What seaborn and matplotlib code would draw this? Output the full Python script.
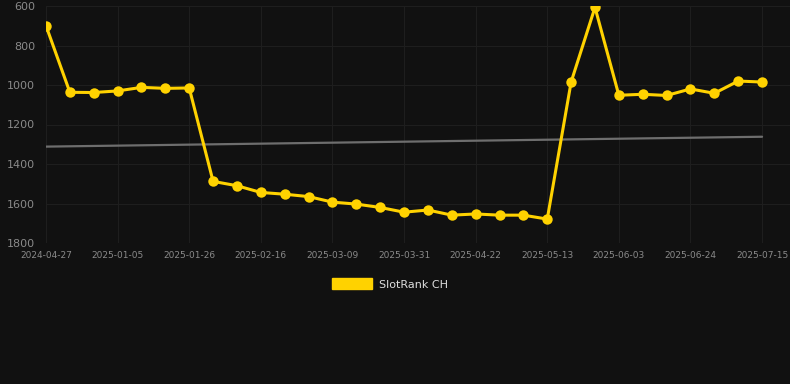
import matplotlib
matplotlib.use('Agg')
import matplotlib.pyplot as plt
from matplotlib.patches import Patch
import numpy as np
import pandas as pd
import seaborn as sns

# rank values (lower number = better rank), one per snapshot
rank_values = [700, 1037, 1038, 1030, 1012, 1017, 1015, 1488, 1510, 1544,
               1553, 1565, 1593, 1603, 1620, 1644, 1633, 1659, 1653, 1659,
               1659, 1679, 985, 607, 1052, 1047, 1053, 1020, 1042, 980, 985]
tick_labels = ['2024-04-27', '2025-01-05', '2025-01-26', '2025-02-16', '2025-03-09',
               '2025-03-31', '2025-04-22', '2025-05-13', '2025-06-03', '2025-06-24',
               '2025-07-15']
trend_values = [1312, 1262]
series_name = 'SlotRank CH'

BG = '#111111'
YELLOW = '#FFD200'

df = pd.DataFrame({'idx': np.arange(len(rank_values)), 'rank': rank_values})

sns.set_style('dark')
fig = plt.figure(figsize=(7.9, 3.84), dpi=100, facecolor=BG)
ax = fig.add_axes([46 / 790, 1 - 243 / 384, 1 - 46 / 790, 237 / 384])
ax.set_facecolor(BG)

# trend line across the whole range
sns.lineplot(x=[0, len(rank_values) - 1], y=trend_values, ax=ax, color='#6e6e6e',
             linewidth=1.6, zorder=2)
sns.lineplot(data=df, x='idx', y='rank', ax=ax, color=YELLOW, linewidth=2.2,
             marker='o', markersize=7.5, markeredgewidth=0, zorder=3)

ax.set_ylim(1800, 600)
ax.set_xlim(0, 31.17)
ax.set_yticks([600, 800, 1000, 1200, 1400, 1600, 1800])
ax.set_xticks(np.arange(0, len(rank_values), 3))
ax.set_xticklabels(tick_labels)
ax.tick_params(axis='y', colors='#8a8a8a', labelsize=8, length=0, pad=8)
ax.tick_params(axis='x', colors='#8a8a8a', labelsize=6.5, length=0, pad=6)
ax.grid(True, color='#1e1e1e', linewidth=0.8)
ax.set_xlabel('')
ax.set_ylabel('')
for s in ax.spines.values():
    s.set_visible(False)

handle = Patch(facecolor=YELLOW, edgecolor=YELLOW)
leg = fig.legend([handle], [series_name], loc='center', bbox_to_anchor=(0.494, 1 - 284 / 384),
                 frameon=False, fontsize=8, handlelength=3.6, handleheight=1.1,
                 handletextpad=0.6)
for t in leg.get_texts():
    t.set_color('#dddddd')

fig.savefig('out.png', dpi=100, facecolor=BG)
